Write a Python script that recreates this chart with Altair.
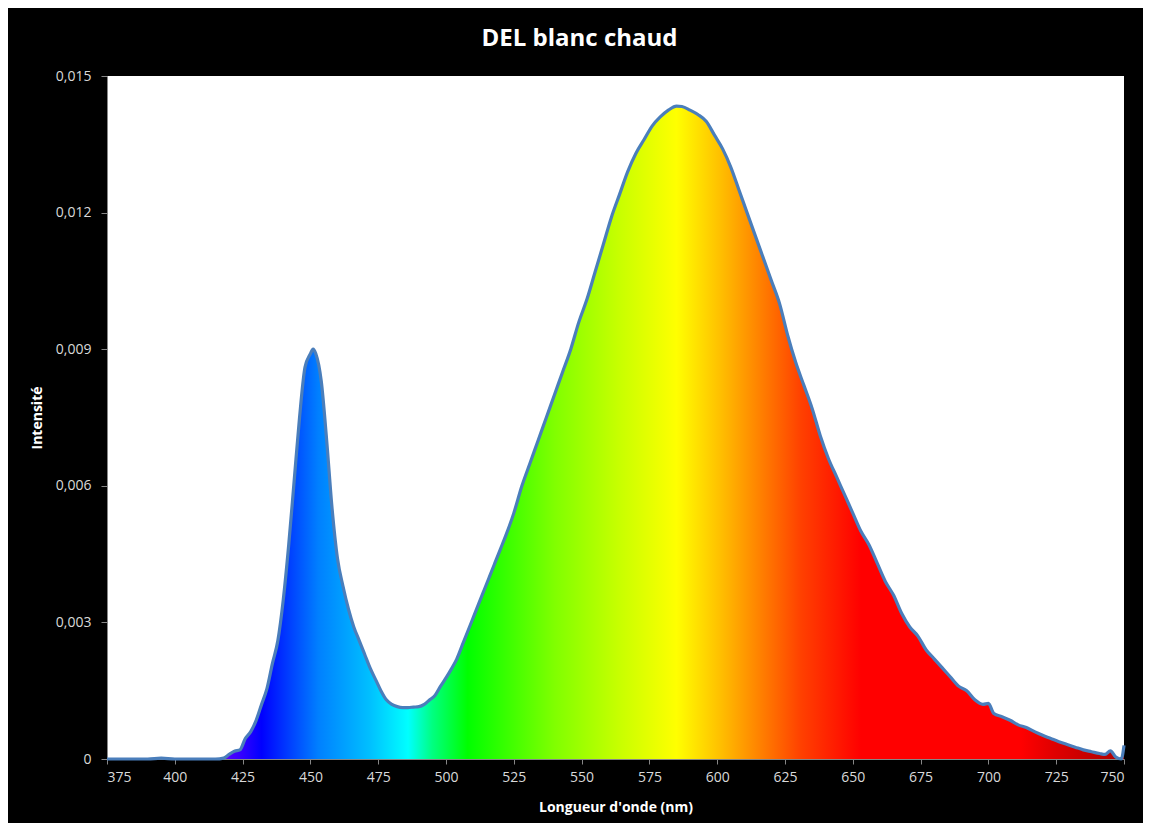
import altair as alt
import pandas as pd

# Wavelengths (nm) and intensities
wavelengths = [375, 380, 385, 390, 395, 400, 405, 410, 415, 418, 420, 422, 424, 426, 428,
               430, 432, 434, 436, 438, 440, 442, 444, 446, 448, 450, 451, 452, 454, 456,
               458, 460, 462, 464, 466, 468, 470, 472, 474, 476, 478, 480, 482, 484, 486,
               488, 490, 492, 494, 496, 498, 500, 502, 504, 506, 508, 510, 512, 514, 516,
               518, 520, 522, 525, 528, 531, 534, 537, 540, 543, 546, 549, 552, 555, 558,
               561, 564, 567, 570, 573, 576, 579, 582, 585, 587, 590, 593, 596, 599, 602,
               605, 608, 611, 614, 617, 620, 623, 626, 629, 632, 635, 638, 641, 644, 647,
               650, 653, 656, 659, 662, 665, 668, 671, 674, 677, 680, 683, 686, 689, 692,
               695, 698, 700, 702, 705, 708, 711, 714, 717, 720, 723, 726, 729, 732, 735,
               738, 741, 743, 745, 747, 749, 750]
intensities = [0.0, 0.0, 0.0, 0.0, 0.00002, 0.0, 0.0, 0.0, 0.0, 0.00002, 0.0001, 0.00017, 0.0002, 0.00045, 0.0006,
               0.00085, 0.0012, 0.00155, 0.0021, 0.0026, 0.0035, 0.0047, 0.0061, 0.0075, 0.0086, 0.0089, 0.0090, 0.0089, 0.0083, 0.0070,
               0.0055, 0.0044, 0.0038, 0.0033, 0.0029, 0.0026, 0.0023, 0.0020, 0.00175, 0.0015, 0.0013, 0.0012, 0.00115, 0.00113, 0.00113,
               0.00114, 0.00115, 0.0012, 0.0013, 0.0014, 0.0016, 0.00178, 0.00198, 0.0022, 0.0025, 0.0028, 0.0031, 0.0034, 0.0037, 0.0040,
               0.0043, 0.0046, 0.0049, 0.0054, 0.0060, 0.0065, 0.0070, 0.0075, 0.0080, 0.0085, 0.0090, 0.0096, 0.0101, 0.0107, 0.0113,
               0.0119, 0.0124, 0.0129, 0.0133, 0.0136, 0.0139, 0.0141, 0.01425, 0.01434, 0.01433, 0.01425, 0.01415, 0.0140, 0.0137, 0.0134,
               0.0130, 0.0125, 0.0120, 0.0115, 0.0110, 0.0105, 0.0100, 0.0093, 0.0087, 0.0082, 0.0077, 0.0071, 0.0066, 0.0062, 0.0058,
               0.0054, 0.0050, 0.0047, 0.0043, 0.0039, 0.0036, 0.0032, 0.0029, 0.0027, 0.0024, 0.0022, 0.0020, 0.0018, 0.0016, 0.0015,
               0.0013, 0.0012, 0.00122, 0.0010, 0.00093, 0.00085, 0.00075, 0.00069, 0.0006, 0.00052, 0.00045, 0.00038, 0.00032, 0.00026, 0.0002,
               0.00016, 0.00012, 0.0001, 0.00018, 0.00004, 0.0, 0.0003]

# Spectral colour stops (wavelength, colour) for the fill
stop_wl = [375, 415, 425, 432, 453, 472, 486, 495, 508, 540, 564, 585, 601, 616, 631, 653, 712, 724, 740, 750]
stop_col = ["#7a00ff", "#6a00ff", "#3000ff", "#0000ff", "#0080ff", "#00c0ff", "#00ffff", "#00ff80",
            "#00ff00", "#80ff00", "#c8ff00", "#ffff00", "#ffc000", "#ff8000", "#ff4000", "#ff0000",
            "#ff0000", "#e00000", "#c00000", "#b00000"]

x_ticks = list(range(375, 751, 25))
y_ticks = [0, 0.003, 0.006, 0.009, 0.012, 0.015]

df = pd.DataFrame({"wl": wavelengths, "val": intensities})

wl_min, wl_max = 375, 750
stops = [alt.GradientStop(offset=(w - wl_min) / (wl_max - wl_min), color=c)
         for w, c in zip(stop_wl, stop_col)]

FONT = "Open Sans"

x_enc = alt.X("wl:Q", scale=alt.Scale(domain=[375, 750], nice=False, zero=False),
              axis=alt.Axis(values=x_ticks, title="Longueur d'onde (nm)", grid=False,
                            labelColor="#d9d9d9", labelFontSize=14, labelFont=FONT,
                            titleColor="white", titleFontSize=14, titleFont=FONT,
                            titleFontWeight="bold", titlePadding=16,
                            domainColor="#868686", tickColor="#868686", tickSize=5,
                            labelPadding=6, format="d"))
y_enc = alt.Y("val:Q", scale=alt.Scale(domain=[0, 0.015], nice=False),
              axis=alt.Axis(values=y_ticks, title="Intensité", grid=False,
                            labelExpr="datum.value == 0 ? '0' : replace(format(datum.value, '.3f'), '.', ',')",
                            labelColor="#d9d9d9", labelFontSize=14, labelFont=FONT,
                            titleColor="white", titleFontSize=14, titleFont=FONT,
                            titleFontWeight="bold", titlePadding=11,
                            domainColor="#868686", tickColor="#868686", tickSize=6,
                            labelPadding=10))

area = alt.Chart(df).mark_area(
    color=alt.Gradient(gradient="linear", stops=stops, x1=0, x2=1, y1=0, y2=0),
    interpolate="linear", opacity=1
).encode(x=x_enc, y=y_enc)

line = alt.Chart(df).mark_line(color="#4a7ebb", strokeWidth=3.2, interpolate="monotone").encode(
    x="wl:Q", y="val:Q")

chart = alt.layer(area, line).properties(
    width=1017, height=683,
    title=alt.TitleParams("DEL blanc chaud", color="white", fontSize=24, font=FONT,
                          fontWeight="bold", anchor="middle", frame="group", dx=-36, offset=18),
    autosize=alt.AutoSizeParams(type="none"),
    padding={"left": 99, "top": 68, "right": 19, "bottom": 64},
).configure(background="black").configure_view(fill="white", stroke=None)

chart.save("out.html", embed_options={"renderer": "svg", "actions": False})
